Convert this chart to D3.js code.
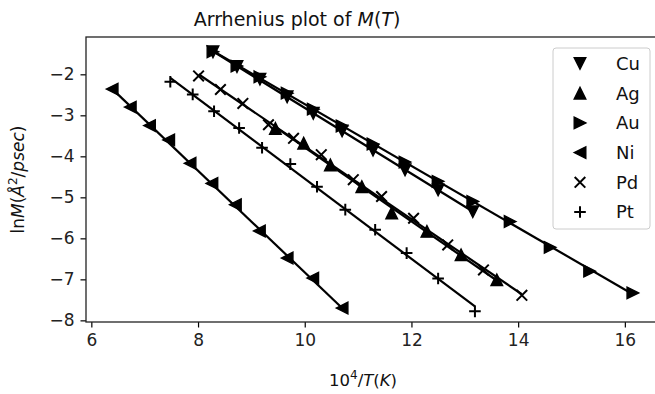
<!DOCTYPE html>
<html>
<head>
<meta charset="utf-8">
<script src="https://cdn.jsdelivr.net/npm/d3@7"></script>
<style>
  body { margin: 0; background: #fff; }
  svg { font-family: "DejaVu Sans", sans-serif; }
</style>
</head>
<body>
<script>
// values (x = 10^4/T, y = ln M)
var cuX = [8.28, 8.73, 9.16, 9.67, 10.16, 10.70, 11.28, 11.88, 12.50, 13.15];
var cuY = [-1.45, -1.81, -2.12, -2.55, -2.95, -3.38, -3.85, -4.33, -4.82, -5.35];
var agX = [9.45, 9.98, 10.48, 11.07, 11.63, 12.29, 12.93, 13.60];
var agY = [-3.32, -3.68, -4.21, -4.74, -5.38, -5.83, -6.40, -7.01];
var auX = [8.28, 8.73, 9.16, 9.67, 10.16, 10.70, 11.28, 11.88, 12.50, 13.15, 13.85, 14.60, 15.34, 16.15];
var auY = [-1.45, -1.80, -2.06, -2.46, -2.85, -3.26, -3.70, -4.14, -4.61, -5.10, -5.59, -6.22, -6.80, -7.33];
var niX = [6.39, 6.73, 7.09, 7.45, 7.85, 8.26, 8.70, 9.15, 9.67, 10.15, 10.70];
var niY = [-2.36, -2.80, -3.25, -3.60, -4.17, -4.66, -5.18, -5.82, -6.48, -6.97, -7.70];
var pdX = [8.01, 8.42, 8.84, 9.32, 9.79, 10.31, 10.91, 11.44, 12.04, 12.68, 13.35, 14.07];
var pdY = [-2.04, -2.37, -2.71, -3.23, -3.56, -3.96, -4.57, -4.98, -5.51, -6.16, -6.77, -7.39];
var ptX = [7.48, 7.90, 8.30, 8.77, 9.20, 9.73, 10.23, 10.76, 11.32, 11.91, 12.50, 13.19];
var ptY = [-2.18, -2.49, -2.90, -3.31, -3.79, -4.19, -4.74, -5.30, -5.79, -6.36, -6.98, -7.78];

var names = ["Cu", "Ag", "Au", "Ni", "Pd", "Pt"];
var markers = ["tdown", "tup", "tright", "tleft", "cross", "plus"];
var xTicks = [6, 8, 10, 12, 14, 16];
var yTicks = [-2, -3, -4, -5, -6, -7, -8];

var series = [
  { name: "Cu", x: cuX, y: cuY },
  { name: "Ag", x: agX, y: agY },
  { name: "Au", x: auX, y: auY },
  { name: "Ni", x: niX, y: niY },
  { name: "Pd", x: pdX, y: pdY },
  { name: "Pt", x: ptX, y: ptY }
];

var W = 655, H = 394;
var pLeft = 86, pTop = 37, pRight = 659, pBottom = 322;

var svg = d3.select("body").append("svg")
  .attr("width", W)
  .attr("height", H);

var x = d3.scaleLinear().domain([5.9, 16.64]).range([pLeft, pRight]);
var y = d3.scaleLinear().domain([-8.04, -1.09]).range([pBottom, pTop]);

// marker shapes, centred on 0,0
function markerPath(kind) {
  var s = 5.8, h = 5.3;
  if (kind == "tdown") return "M" + (-s) + "," + (-s) + "L" + s + "," + (-s) + "L0," + s + "Z";
  if (kind == "tup") return "M0," + (-s) + "L" + s + "," + s + "L" + (-s) + "," + s + "Z";
  if (kind == "tright") return "M" + s + ",0L" + (-s) + "," + (-s) + "L" + (-s) + "," + s + "Z";
  if (kind == "tleft") return "M" + (-s) + ",0L" + s + "," + (-s) + "L" + s + "," + s + "Z";
  if (kind == "cross") return "M" + (-h) + "," + (-h) + "L" + h + "," + h + "M" + (-h) + "," + h + "L" + h + "," + (-h);
  return "M" + (-s) + ",0L" + s + ",0M0," + (-s) + "L0," + s;
}

function drawMarker(g, kind) {
  var open = (kind == "cross" || kind == "plus");
  g.append("path")
    .attr("d", markerPath(kind))
    .attr("fill", open ? "none" : "#000")
    .attr("stroke", "#000")
    .attr("stroke-width", open ? 2 : 1.4)
    .attr("stroke-linejoin", "miter");
}

// least squares line through each series
function fit(xs, ys) {
  var mx = d3.mean(xs), my = d3.mean(ys);
  var sxy = d3.sum(xs, function(v, i) { return (v - mx) * (ys[i] - my); });
  var sxx = d3.sum(xs, function(v) { return (v - mx) * (v - mx); });
  var b = sxy / sxx;
  return function(v) { return my + b * (v - mx); };
}

svg.append("clipPath").attr("id", "clip")
  .append("rect")
    .attr("x", pLeft).attr("y", pTop)
    .attr("width", pRight - pLeft).attr("height", pBottom - pTop);

var plot = svg.append("g").attr("clip-path", "url(#clip)");

series.forEach(function(s) {
  var f = fit(s.x, s.y);
  var x0 = d3.min(s.x), x1 = d3.max(s.x);
  plot.append("path")
    .datum([x0, x1])
    .attr("d", d3.line().x(function(d) { return x(d); }).y(function(d) { return y(f(d)); }))
    .attr("fill", "none")
    .attr("stroke", "#000")
    .attr("stroke-width", 2.2);
});

series.forEach(function(s, k) {
  s.x.forEach(function(v, i) {
    var g = plot.append("g")
      .attr("transform", "translate(" + x(v) + "," + y(s.y[i]) + ")");
    drawMarker(g, markers[k]);
  });
});

// axes
var xAxis = svg.append("g")
  .attr("transform", "translate(0," + pBottom + ")")
  .call(d3.axisBottom(x).tickValues(xTicks).tickSize(5.5).tickPadding(6));
var yAxis = svg.append("g")
  .attr("transform", "translate(" + pLeft + ",0)")
  .call(d3.axisLeft(y).tickValues(yTicks).tickSize(5.5).tickPadding(6)
    .tickFormat(function(d) { return "\u2212" + Math.abs(d); }));

[xAxis, yAxis].forEach(function(a) {
  a.select(".domain").remove();
  a.selectAll(".tick line").attr("stroke", "#000").attr("stroke-width", 1.2);
  a.selectAll(".tick text")
    .attr("fill", "#222")
    .style("font-family", "DejaVu Sans")
    .style("font-size", "17px");
});

// frame
svg.append("rect")
  .attr("x", pLeft).attr("y", pTop)
  .attr("width", pRight - pLeft).attr("height", pBottom - pTop)
  .attr("fill", "none")
  .attr("stroke", "#222")
  .attr("stroke-width", 1.3);

// title
var title = svg.append("text")
  .attr("x", 297)
  .attr("y", 26)
  .attr("text-anchor", "middle")
  .style("font-size", "19px")
  .attr("fill", "#111");
title.append("tspan").text("Arrhenius plot of ");
title.append("tspan").style("font-style", "italic").text("M");
title.append("tspan").text("(");
title.append("tspan").style("font-style", "italic").text("T");
title.append("tspan").text(")");

// x label
var xl = svg.append("text")
  .attr("x", 363)
  .attr("y", 386)
  .attr("text-anchor", "middle")
  .style("font-size", "16.5px")
  .attr("fill", "#111");
xl.append("tspan").text("10");
xl.append("tspan").attr("dy", -7).style("font-size", "12px").text("4");
xl.append("tspan").attr("dy", 7).text("/");
xl.append("tspan").style("font-style", "italic").text("T");
xl.append("tspan").text("(");
xl.append("tspan").style("font-style", "italic").text("K");
xl.append("tspan").text(")");

// y label
var yl = svg.append("text")
  .attr("transform", "translate(24," + ((pTop + pBottom) / 2) + ") rotate(-90)")
  .attr("text-anchor", "middle")
  .style("font-size", "17px")
  .attr("fill", "#111");
yl.append("tspan").text("ln");
yl.append("tspan").style("font-style", "italic").text("M");
yl.append("tspan").text("(");
yl.append("tspan").style("font-style", "italic").text("Å");
yl.append("tspan").attr("dy", -7).style("font-size", "12px").text("2");
yl.append("tspan").attr("dy", 7).text("/");
yl.append("tspan").style("font-style", "italic").text("psec");
yl.append("tspan").text(")");

// legend
var legend = svg.append("g");
legend.append("rect")
  .attr("x", 553).attr("y", 48)
  .attr("width", 97).attr("height", 181)
  .attr("rx", 3)
  .attr("fill", "#fff")
  .attr("fill-opacity", 0.8)
  .attr("stroke", "#ccc")
  .attr("stroke-width", 1);

names.forEach(function(n, k) {
  var row = legend.append("g")
    .attr("transform", "translate(0," + (63.5 + k * 29.7) + ")");
  var m = row.append("g").attr("transform", "translate(580,0)");
  drawMarker(m, markers[k]);
  row.append("text")
    .attr("x", 616)
    .attr("y", 0)
    .attr("dy", "0.36em")
    .style("font-size", "18px")
    .attr("fill", "#111")
    .text(n);
});
</script>
</body>
</html>
